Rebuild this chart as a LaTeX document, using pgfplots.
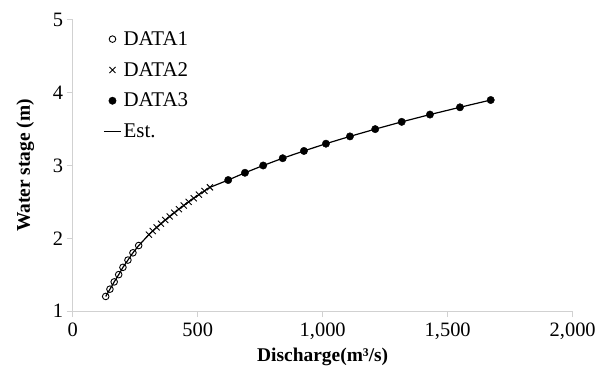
\documentclass[border=0pt]{standalone}
\usepackage{fontspec}
\setmainfont{Liberation Serif}
\usepackage{pgfplots}
\pgfplotsset{compat=1.18}
\begin{document}
\begin{tikzpicture}
\begin{axis}[name=ax, scale only axis, width=500bp, height=291bp,
  xmin=0, xmax=2000, ymin=1, ymax=5,
  xtick={0,500,1000,1500,2000}, ytick={1,2,3,4,5},
  axis lines=left, axis line style={-, draw=black!18, line width=1bp},
  tick style={draw=black!18, line width=1bp}, tick align=outside, major tick length=6bp,
  /pgf/number format/assume math mode=true, /pgf/number format/1000 sep={,},
  ticklabel style={font=\fontsize{20.5}{23}\selectfont},
  xticklabel style={yshift=-2bp},
  xlabel={Discharge(m³/s)}, ylabel={Water stage (m)},
  label style={font=\fontsize{19.5}{22}\selectfont\bfseries},
  xlabel style={yshift=-2bp},
  ylabel style={yshift=12bp},
  legend style={draw=none, fill=none, at={(0.055,0.975)}, anchor=north west,
    font=\fontsize{21}{24}\selectfont, row sep=11.5bp},
  legend cell align=left,
  clip=false]
\addplot[only marks, mark=o, mark size=3.3bp, mark options={line width=0.9bp, draw=black, fill=none}]
  coordinates {(132,1.2) (149,1.3) (166,1.4) (184,1.5) (201,1.6) (221,1.7) (241,1.8) (264,1.9)};
\addlegendentry{DATA1}
\addplot[only marks, mark=x, mark size=4.3bp, mark options={line width=0.9bp, draw=black}]
  coordinates {(305,2.05) (320,2.10) (336,2.15) (353,2.20) (370,2.25) (388,2.30) (406,2.35)
   (425,2.40) (444,2.45) (464,2.50) (484,2.55) (505,2.60) (527,2.65) (549,2.70)};
\addlegendentry{DATA2}
\addplot[only marks, mark=*, mark size=3.7bp, mark options={draw=black, fill=black}]
  coordinates {(622,2.8) (689,2.9) (762,3.0) (840,3.1) (925,3.2) (1013,3.3) (1109,3.4)
   (1210,3.5) (1316,3.6) (1429,3.7) (1549,3.8) (1672,3.9)};
\addlegendentry{DATA3}
\addplot[black, line width=1.2bp, no marks]
  coordinates {(132,1.2) (149,1.3) (166,1.4) (184,1.5) (201,1.6) (221,1.7) (241,1.8) (264,1.9)
   (305,2.05) (320,2.10) (336,2.15) (353,2.20) (370,2.25) (388,2.30) (406,2.35)
   (425,2.40) (444,2.45) (464,2.50) (484,2.55) (505,2.60) (527,2.65) (549,2.70)
   (622,2.8) (689,2.9) (762,3.0) (840,3.1) (925,3.2) (1013,3.3) (1109,3.4)
   (1210,3.5) (1316,3.6) (1429,3.7) (1549,3.8) (1672,3.9)};
\addlegendentry{Est.}
\end{axis}
\pgfresetboundingbox
\path[use as bounding box] ([xshift=-72.7bp,yshift=-55bp]ax.south west) rectangle ([xshift=29.3bp,yshift=20bp]ax.north east);
\end{tikzpicture}
\end{document}
